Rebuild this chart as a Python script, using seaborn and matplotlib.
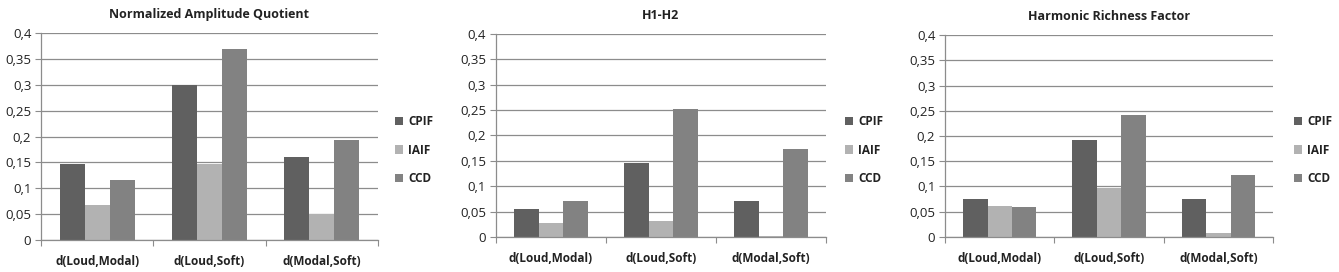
import numpy as np
import pandas as pd
import matplotlib
matplotlib.use("Agg")
import matplotlib.pyplot as plt
import seaborn as sns
from matplotlib.patches import Patch

categories = ["d(Loud,Modal)", "d(Loud,Soft)", "d(Modal,Soft)"]
methods = ["CPIF", "IAIF", "CCD"]
titles = ["Normalized Amplitude Quotient", "H1-H2", "Harmonic Richness Factor"]

naq_cpif = [0.147, 0.300, 0.161]
naq_iaif = [0.068, 0.147, 0.050]
naq_ccd = [0.116, 0.370, 0.193]

h12_cpif = [0.056, 0.145, 0.070]
h12_iaif = [0.028, 0.032, 0.002]
h12_ccd = [0.070, 0.253, 0.174]

hrf_cpif = [0.076, 0.193, 0.076]
hrf_iaif = [0.062, 0.098, 0.008]
hrf_ccd = [0.060, 0.242, 0.123]

yticks = [0, 0.05, 0.1, 0.15, 0.2, 0.25, 0.3, 0.35, 0.4]
ytick_labels = ["0", "0,05", "0,1", "0,15", "0,2", "0,25", "0,3", "0,35", "0,4"]

panels = [
    (naq_cpif, naq_iaif, naq_ccd),
    (h12_cpif, h12_iaif, h12_ccd),
    (hrf_cpif, hrf_iaif, hrf_ccd),
]

palette = {"CPIF": "#606060", "IAIF": "#b2b2b2", "CCD": "#828282"}

sns.set_theme(style="white")
plt.rcParams["font.family"] = ["Open Sans", "DejaVu Sans"]

fig = plt.figure(figsize=(13.39, 2.72), dpi=100)

positions = [
    [0.0306, 0.1176, 0.2517, 0.7611],
    [0.3704, 0.1287, 0.2465, 0.7463],
    [0.7058, 0.1287, 0.2450, 0.7426],
]
legend_x = [395, 845, 1294]

for i, (vals, pos) in enumerate(zip(panels, positions)):
    ax = fig.add_axes(pos)
    rows = []
    for m, series in zip(methods, vals):
        for c, v in zip(categories, series):
            rows.append({"cat": c, "method": m, "value": v})
    df = pd.DataFrame(rows)
    sns.barplot(data=df, x="cat", y="value", hue="method", order=categories,
                hue_order=methods, palette=palette, width=0.67, gap=0,
                saturation=1, ax=ax, legend=False, linewidth=0)
    ax.set_ylim(0, 0.4)
    ax.set_xlim(-0.5, 2.5)
    ax.set_yticks(yticks)
    ax.set_yticklabels(ytick_labels, fontsize=9.5, color="#222222")
    ax.yaxis.grid(True, color="#8c8c8c", linewidth=0.9)
    ax.set_axisbelow(True)
    ax.set_xlabel("")
    ax.set_ylabel("")
    ax.set_xticks([0, 1, 2])
    ax.set_xticklabels(categories, fontsize=8.5, fontweight="bold", color="#222222")
    ax.set_xticks([-0.5, 0.5, 1.5, 2.5], minor=True)
    ax.tick_params(axis="x", which="major", length=0, pad=11)
    ax.tick_params(axis="x", which="minor", length=4, width=0.8, color="#8c8c8c", direction="out", bottom=True)
    ax.tick_params(axis="y", which="major", length=4, width=0.8, color="#8c8c8c", direction="out", left=True, pad=3)
    for s in ["top", "right"]:
        ax.spines[s].set_visible(False)
    for s in ["left", "bottom"]:
        ax.spines[s].set_color("#8c8c8c")
        ax.spines[s].set_linewidth(0.9)
    ax.set_title(titles[i], fontsize=9, fontweight="bold", color="#222222", pad=10.5)

    handles = [Patch(facecolor=palette[m], edgecolor="none") for m in methods]
    lx = legend_x[i] / 1339
    leg = fig.legend(handles, methods, loc="center left", bbox_to_anchor=(lx, 1 - 150 / 272),
                     frameon=False, prop={"size": 8.5, "weight": "bold"}, handlelength=0.7,
                     handleheight=0.7, handletextpad=0.4, labelspacing=1.3, borderaxespad=0,
                     borderpad=0)
    for t in leg.get_texts():
        t.set_color("#222222")

fig.savefig("out.png", dpi=100, facecolor="white")
